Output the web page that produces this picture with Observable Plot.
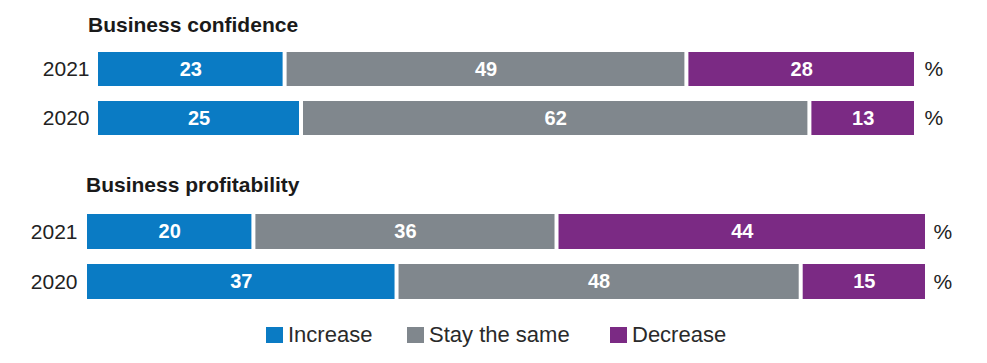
<!DOCTYPE html>
<html>
<head>
<meta charset="utf-8">
<script src="https://cdn.jsdelivr.net/npm/d3@7"></script>
<script src="https://cdn.jsdelivr.net/npm/@observablehq/plot@0.6"></script>
<style>
  html, body { margin: 0; padding: 0; background: #fff; }
  #chart { position: relative; width: 987px; height: 363px; font-family: "Liberation Sans", Arial, Helvetica, sans-serif; overflow: hidden; }
  .title { position: absolute; font-weight: bold; font-size: 21px; line-height: 21px; color: #1a1a1a; white-space: nowrap; }
  .plot { position: absolute; left: 0; }
  .item { position: absolute; top: 324px; display: flex; align-items: flex-start; font-size: 22px; line-height: 22px; color: #2a2a2a; white-space: nowrap; }
  .sw { width: 17px; height: 16px; margin-top: 3px; margin-right: 5px; }
</style>
</head>
<body>
<div id="chart"></div>
<script>
const years = ["2021", "2020"];
const categories = ["Increase", "Stay the same", "Decrease"];
const colors = ["#0a7bc4", "#80878d", "#7b2a84"];
const groupTitles = ["Business confidence", "Business profitability"];
const confidence2021 = [23, 49, 28];
const confidence2020 = [25, 62, 13];
const profitability2021 = [20, 36, 44];
const profitability2020 = [37, 48, 15];

function rows(v2021, v2020) {
  const out = [];
  [[years[0], v2021], [years[1], v2020]].forEach(([yr, vals]) => {
    vals.forEach((v, i) => out.push({year: yr, category: categories[i], value: v}));
  });
  return out;
}

const fontFamily = '"Liberation Sans", Arial, Helvetica, sans-serif';

function makePlot(data, opts) {
  return Plot.plot({
    width: 987,
    height: opts.height,
    marginLeft: opts.marginLeft,
    marginRight: opts.marginRight,
    marginTop: 0,
    marginBottom: 0,
    style: {fontFamily, background: "transparent", overflow: "visible"},
    x: {domain: [0, 100], axis: null},
    y: {domain: years, range: opts.yRange, paddingInner: opts.pad, paddingOuter: 0, axis: null},
    color: {domain: categories, range: colors},
    marks: [
      Plot.barX(data, Plot.stackX({x: "value", y: "year", fill: "category", insetLeft: 2, insetRight: 2})),
      Plot.text(data, Plot.stackX({x: "value", y: "year", z: "category", text: "value", fill: "white", fontWeight: "bold", fontSize: 20})),
      Plot.axisY({tickSize: 0, tickPadding: opts.tickPadding, fontSize: 21, color: "#222", label: null}),
      Plot.text(years, {y: d => d, text: () => "%", frameAnchor: "right", textAnchor: "start", dx: opts.pctDx, fontSize: 21, fill: "#222"})
    ]
  });
}

const chart = document.getElementById("chart");

function addTitle(text, left, top) {
  const d = document.createElement("div");
  d.className = "title";
  d.textContent = text;
  d.style.left = left + "px";
  d.style.top = top + "px";
  chart.appendChild(d);
}

addTitle(groupTitles[0], 88, 14);
const p1 = makePlot(rows(confidence2021, confidence2020), {
  height: 100, marginLeft: 96, marginRight: 71, yRange: [8, 91], pad: 15 / 49, tickPadding: 7, pctDx: 8
});
p1.classList.add("plot");
p1.style.top = "44px";
chart.appendChild(p1);

addTitle(groupTitles[1], 86, 174);
const p2 = makePlot(rows(profitability2021, profitability2020), {
  height: 110, marginLeft: 85, marginRight: 60, yRange: [14, 99], pad: 15 / 50, tickPadding: 8, pctDx: 6
});
p2.classList.add("plot");
p2.style.top = "200px";
chart.appendChild(p2);

const legendLeft = [266, 407, 610];
categories.forEach((c, i) => {
  const it = document.createElement("div");
  it.className = "item";
  it.style.left = legendLeft[i] + "px";
  const sw = document.createElement("div");
  sw.className = "sw";
  sw.style.background = colors[i];
  const lab = document.createElement("span");
  lab.textContent = c;
  it.appendChild(sw);
  it.appendChild(lab);
  chart.appendChild(it);
});
</script>
</body>
</html>
